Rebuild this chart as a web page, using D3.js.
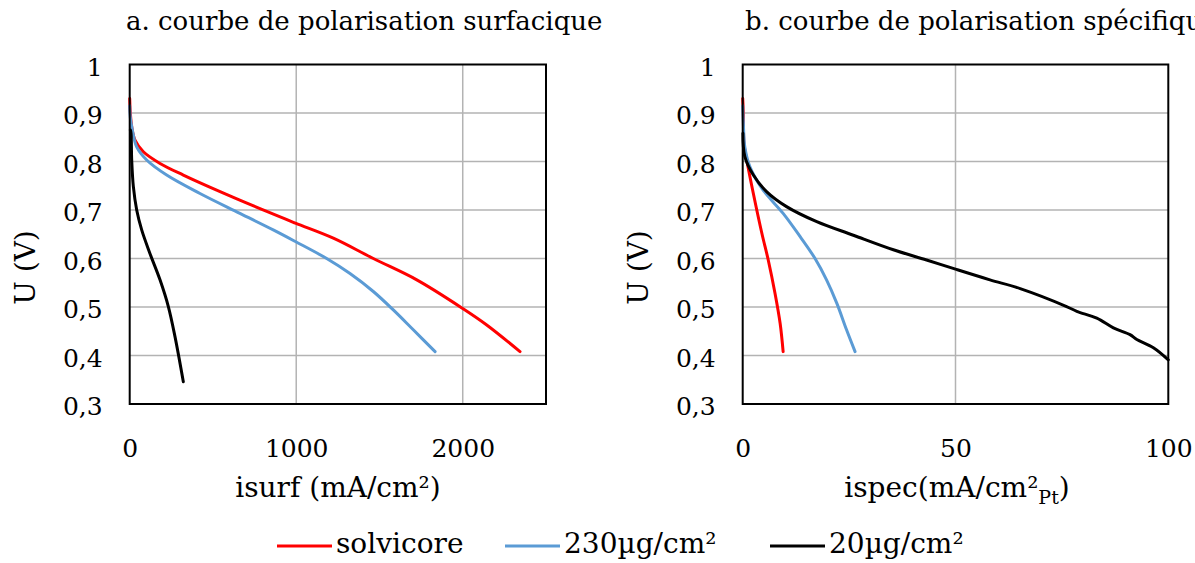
<!DOCTYPE html>
<html><head><meta charset="utf-8">
<script src="https://cdn.jsdelivr.net/npm/d3@7"></script>
<style>body{margin:0;background:#fff}svg{display:block}svg text{font-family:"DejaVu Serif",serif !important;fill:#000}</style>
</head><body><svg id="c" width="1195" height="563"></svg>
<script>
// ---- data ----
const seriesNames = ["solvicore", "230µg/cm²", "20µg/cm²"];
const seriesColors = ["#ff0000", "#5b9bd5", "#000000"];
// panel a : isurf (mA/cm²) vs U (V)
const surfSolvicoreX = [0, 3, 12, 32, 82, 182, 322, 522, 823, 995, 1223, 1463, 1724, 2000, 2144, 2344];
const surfSolvicoreU = [0.93, 0.905, 0.872, 0.844, 0.820, 0.796, 0.772, 0.741, 0.697, 0.673, 0.642, 0.600, 0.556, 0.497, 0.463, 0.408];
const surf230X = [0, 4, 16, 42, 102, 222, 422, 662, 862, 995, 1183, 1323, 1463, 1583, 1703, 1834];
const surf230U = [0.915, 0.89, 0.865, 0.830, 0.803, 0.772, 0.734, 0.693, 0.659, 0.635, 0.600, 0.569, 0.532, 0.494, 0.453, 0.408];
const surf20X = [4, 8, 12, 22, 42, 72, 122, 182, 232, 272, 322];
const surf20U = [0.865, 0.858, 0.803, 0.748, 0.700, 0.659, 0.610, 0.556, 0.501, 0.439, 0.346];
// panel b : ispec (mA/cm²Pt) vs U (V)
const specSolvicoreX = [0, 0.15, 0.3, 0.94, 2.5, 4.5, 6.0, 7.6, 8.8, 9.5];
const specSolvicoreU = [0.93, 0.90, 0.837, 0.803, 0.734, 0.652, 0.597, 0.528, 0.466, 0.408];
const spec230X = [0, 0.15, 0.5, 1.7, 4.8, 9.5, 13.5, 17.0, 19.7, 22.1, 24.4, 26.4];
const spec230U = [0.915, 0.88, 0.830, 0.789, 0.741, 0.693, 0.645, 0.600, 0.556, 0.508, 0.453, 0.408];
const spec20X = [0.05, 0.5, 2.5, 5.6, 10.3, 17.4, 26.0, 35.4, 43.2, 50.0, 58.1, 65.2, 76.1, 78.5, 83.2, 87.1, 91.0, 92.6, 96.5, 100];
const spec20U = [0.858, 0.810, 0.772, 0.738, 0.707, 0.676, 0.648, 0.618, 0.597, 0.578, 0.556, 0.538, 0.501, 0.491, 0.477, 0.457, 0.443, 0.433, 0.416, 0.391];
const yTicks = [0.3, 0.4, 0.5, 0.6, 0.7, 0.8, 0.9, 1];
const surfTicks = [0, 1000, 2000];
const specTicks = [0, 50, 100];

const svg = d3.select("#c");
svg.append("rect").attr("width", 1195).attr("height", 563).attr("fill", "#fff");
const fmt = v => (Math.round(v * 10) / 10).toString().replace(".", ",");

function zip(xs, ys) { return xs.map((x, i) => [x, ys[i]]); }

function panel(opt) {
  const x = d3.scaleLinear().domain(opt.xDomain).range([opt.left, opt.right]);
  const y = d3.scaleLinear().domain([0.3, 1]).range([404, 64.5]);
  const g = svg.append("g");
  g.selectAll(".hg").data(yTicks.slice(1, -1)).join("line")
    .attr("x1", opt.left).attr("x2", opt.right).attr("y1", d => y(d)).attr("y2", d => y(d))
    .attr("stroke", "#b3b3b3").attr("stroke-width", 1.5);
  g.selectAll(".vg").data(opt.xTicks.slice(1).filter(v => v < opt.xDomain[1])).join("line")
    .attr("x1", d => x(d)).attr("x2", d => x(d)).attr("y1", 64.5).attr("y2", 404)
    .attr("stroke", "#b3b3b3").attr("stroke-width", 1.5);
  const cid = "clip" + opt.id;
  svg.append("clipPath").attr("id", cid).append("rect")
    .attr("x", opt.left - 2).attr("y", 60).attr("width", opt.right - opt.left + 4).attr("height", 346);
  const line = d3.line().x(d => x(d[0])).y(d => y(d[1])).curve(d3.curveCatmullRom.alpha(0.5));
  const lg = g.append("g").attr("clip-path", `url(#${cid})`);
  opt.series.forEach((s, i) => {
    lg.append("path").datum(zip(s[0], s[1])).attr("d", line)
      .attr("fill", "none").attr("stroke", seriesColors[i]).attr("stroke-width", 3)
      .attr("stroke-linejoin", "round").attr("stroke-linecap", "round");
  });
  g.append("rect").attr("x", opt.left).attr("y", 64.5).attr("width", opt.right - opt.left).attr("height", 404 - 64.5)
    .attr("fill", "none").attr("stroke", "#000").attr("stroke-width", 2);
  const ya = d3.axisLeft(y).tickValues(yTicks).tickSize(0).tickPadding(27).tickFormat(fmt);
  const yg = g.append("g").attr("transform", `translate(${opt.left},0)`).call(ya);
  yg.select(".domain").remove();
  yg.selectAll("text").attr("font-size", 25).attr("dy", "0.42em").attr("fill", "#000");
  const xa = d3.axisBottom(x).tickValues(opt.xTicks).tickSize(0).tickPadding(35).tickFormat(d => d);
  const xg = g.append("g").attr("transform", `translate(0,404)`).call(xa);
  xg.select(".domain").remove();
  xg.selectAll("text").attr("font-size", 25).attr("fill", "#000");
  svg.append("text").attr("x", opt.titleX).attr("y", 29.5).attr("font-size", 26).text(opt.title);
  svg.append("text").attr("transform", `translate(${opt.left - 94.7},267.5) rotate(-90)`)
    .attr("text-anchor", "middle").attr("font-size", 28).text("U (V)");
  const xl = svg.append("text").attr("x", opt.xLabelX).attr("y", 497).attr("text-anchor", "middle").attr("font-size", 28);
  opt.xLabel(xl);
}

panel({
  id: "a", left: 129.7, right: 546, xDomain: [0, 2500], xTicks: surfTicks,
  title: "a. courbe de polarisation  surfacique", titleX: 126, xLabelX: 338,
  xLabel: t => t.text("isurf (mA/cm²)"),
  series: [[surfSolvicoreX, surfSolvicoreU], [surf230X, surf230U], [surf20X, surf20U]]
});
panel({
  id: "b", left: 742.7, right: 1168.3, xDomain: [0, 100], xTicks: specTicks,
  title: "b. courbe de polarisation  spécifique", titleX: 745, xLabelX: 957,
  xLabel: t => { t.append("tspan").text("ispec(mA/cm²"); t.append("tspan").attr("font-size", 19).attr("dy", 7).text("Pt"); t.append("tspan").attr("dy", -7).text(")"); },
  series: [[specSolvicoreX, specSolvicoreU], [spec230X, spec230U], [spec20X, spec20U]]
});

const legX = [277, 505, 770];
const leg = svg.append("g");
seriesNames.forEach((n, i) => {
  leg.append("line").attr("x1", legX[i]).attr("x2", legX[i] + 55).attr("y1", 546).attr("y2", 546)
    .attr("stroke", seriesColors[i]).attr("stroke-width", 3);
  leg.append("text").attr("x", legX[i] + 59).attr("y", 553).attr("font-size", 28).text(n);
});
</script></body></html>
